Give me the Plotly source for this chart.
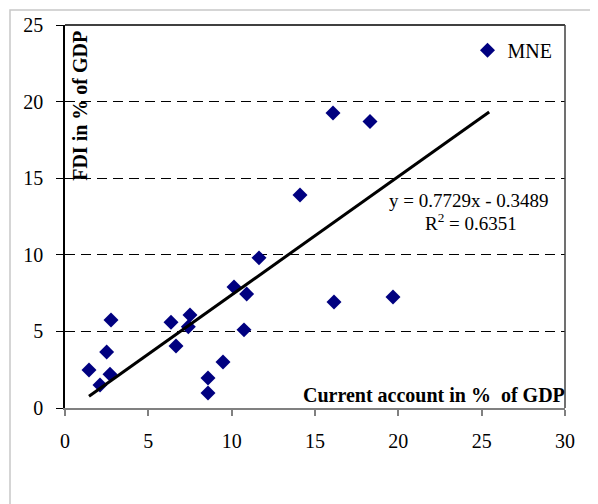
import plotly.graph_objects as go

# Data
current_account = [1.44, 2.1, 2.5, 2.7, 2.76, 6.36, 6.66, 7.4, 7.5, 8.58, 8.58, 9.48,
                   10.14, 10.74, 10.9, 11.64, 14.1, 16.08, 16.14, 18.3, 19.68]
fdi = [2.48, 1.5, 3.65, 2.2, 5.74, 5.6, 4.05, 5.3, 6.07, 1.96, 0.98, 3.0,
       7.9, 5.1, 7.44, 9.8, 13.9, 19.26, 6.92, 18.7, 7.24]
series_name = "MNE"
trend_slope = 0.7729
trend_intercept = -0.3489
trend_r2 = 0.6351
trend_x_end = 25.45
x_ticks = [0, 5, 10, 15, 20, 25, 30]
y_ticks = [0, 5, 10, 15, 20, 25]

FONT = "Liberation Serif, Times New Roman, serif"
NAVY = "#000080"

trend_x = [min(current_account), trend_x_end]
trend_y = [trend_slope * v + trend_intercept for v in trend_x]

fig = go.Figure()
fig.add_trace(go.Scatter(
    x=current_account, y=fdi, mode="markers", name=series_name,
    marker=dict(symbol="diamond", size=11.5, color=NAVY, line=dict(width=0)),
))
fig.add_trace(go.Scatter(
    x=trend_x, y=trend_y, mode="lines", showlegend=False,
    line=dict(color="black", width=3),
))

fig.update_layout(
    width=590, height=496,
    margin=dict(l=57, r=33, t=17, b=96, autoexpand=False),
    paper_bgcolor="white", plot_bgcolor="white",
    font=dict(family=FONT, size=19, color="black"),
    showlegend=True,
    legend=dict(x=0.805, y=0.985, xanchor="left", yanchor="top",
                bgcolor="rgba(0,0,0,0)", font=dict(size=20, family=FONT),
                itemwidth=30),
    xaxis=dict(range=[0, 30], tickvals=x_ticks, showgrid=False, zeroline=False,
               automargin=False,
               showline=True, linecolor="#808080", linewidth=2,
               ticks="outside", ticklen=6, tickcolor="#808080", tickwidth=1.5,
               ticklabelstandoff=8,
               tickfont=dict(size=20, family=FONT, color="black")),
    yaxis=dict(range=[0, 25], tickvals=y_ticks, showgrid=True, gridcolor="black",
               gridwidth=1, griddash="10px,6px", zeroline=False,
               automargin=False,
               showline=True, linecolor="black", linewidth=1.5,
               ticks="outside", ticklen=7, tickcolor="black", tickwidth=1,
               ticklabelstandoff=9,
               tickfont=dict(size=20, family=FONT, color="black")),
)

# outer light frame
fig.add_shape(type="rect", xref="paper", yref="paper", x0=-0.11, y0=-0.4,
              x1=1.3, y1=1.039, line=dict(color="#c8c8c8", width=1.5), layer="below")
# top and right plot borders
fig.add_shape(type="line", xref="paper", yref="paper", x0=0, x1=1, y0=1, y1=1,
              line=dict(color="black", width=1.5))
fig.add_shape(type="line", xref="paper", yref="paper", x0=1, x1=1, y0=0, y1=1,
              line=dict(color="#404040", width=1.5))

fig.add_annotation(xref="paper", yref="paper", x=0.03, y=0.789, text="<b>FDI in % of GDP</b>",
                   textangle=-90, showarrow=False, font=dict(size=20, family=FONT),
                   xanchor="center", yanchor="middle")
fig.add_annotation(xref="paper", yref="paper", x=1.003, y=0.034,
                   text="<b>Current account in %  of GDP</b>",
                   showarrow=False, font=dict(size=20, family=FONT),
                   xanchor="right", yanchor="middle")
fig.add_annotation(xref="paper", yref="paper", x=0.808, y=0.543,
                   text=f"y = {trend_slope}x - {abs(trend_intercept)}",
                   showarrow=False, font=dict(size=19, family=FONT),
                   xanchor="center", yanchor="middle")
fig.add_annotation(xref="paper", yref="paper", x=0.812, y=0.486,
                   text=f"R<sup>2</sup> = {trend_r2}",
                   showarrow=False, font=dict(size=19, family=FONT),
                   xanchor="center", yanchor="middle")

fig.write_html("out.html")
